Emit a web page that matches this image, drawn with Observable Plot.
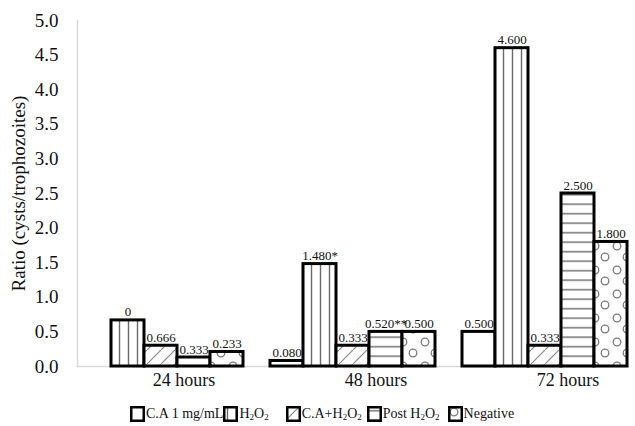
<!DOCTYPE html>
<html>
<head>
<meta charset="utf-8">
<script src="https://cdn.jsdelivr.net/npm/d3@7"></script>
<script src="https://cdn.jsdelivr.net/npm/@observablehq/plot@0.6"></script>
<style>
  body { margin: 0; background: #fff; font-family: "Liberation Serif", "Times New Roman", Times, "DejaVu Serif", serif; }
  #wrap { position: relative; width: 635px; height: 426px; }
  #legend { position: absolute; left: 130px; top: 405px; height: 18px; font-size: 14px; color: #111; display: flex; align-items: center; }
  .item { display: flex; align-items: center; white-space: nowrap; }
  .item svg { display: block; margin-right: 1px; }
  sub { font-size: 9px; vertical-align: -2px; }
  svg text { font-family: "Liberation Serif", "Times New Roman", Times, "DejaVu Serif", serif; }
</style>
</head>
<body>
<svg width="0" height="0" style="position:absolute">
  <defs>
    <pattern id="pV" patternUnits="userSpaceOnUse" width="9" height="10">
      <rect width="9" height="10" fill="#fff"/>
      <line x1="4.5" y1="0" x2="4.5" y2="10" stroke="#6a6a6a" stroke-width="1.4"/>
    </pattern>
    <pattern id="pD" patternUnits="userSpaceOnUse" width="14" height="14">
      <rect width="14" height="14" fill="#fff"/>
      <line x1="-2" y1="16" x2="16" y2="-2" stroke="#8a8a8a" stroke-width="1.2"/>
    </pattern>
    <pattern id="pH" patternUnits="userSpaceOnUse" width="10" height="9.5">
      <rect width="10" height="9.5" fill="#fff"/>
      <line x1="0" y1="4.7" x2="10" y2="4.7" stroke="#6a6a6a" stroke-width="1.4"/>
    </pattern>
    <pattern id="pC" patternUnits="userSpaceOnUse" width="22" height="24">
      <rect width="22" height="24" fill="#fff"/>
      <circle cx="6" cy="6" r="3.8" fill="none" stroke="#7a7a7a" stroke-width="1.3"/>
      <circle cx="16" cy="17" r="3.8" fill="none" stroke="#7a7a7a" stroke-width="1.3"/>
    </pattern>
  </defs>
</svg>
<div id="wrap">
  <div id="chart"></div>
  <div id="legend"></div>
</div>
<script>
// ---- data ----
const groups = ["24 hours", "48 hours", "72 hours"];
const series = ["C.A 1 mg/mL", "H2O2", "C.A+H2O2", "Post H2O2", "Negative"];
const values24 = [0, 0.666, 0.30, 0.13, 0.21];
const values48 = [0.08, 1.48, 0.30, 0.50, 0.50];
const values72 = [0.50, 4.60, 0.30, 2.50, 1.80];
const labels24 = ["", "0", "0.666", "0.333", "0.233"];
const labels48 = ["0.080", "1.480*", "0.333", "0.520**", "0.500"];
const labels72 = ["0.500", "4.600", "0.333", "2.500", "1.800"];
const yTicks = [0, 0.5, 1, 1.5, 2, 2.5, 3, 3.5, 4, 4.5, 5];

// ---- styles ----
const fills = ["#fff", "url(#pV)", "url(#pD)", "url(#pH)", "url(#pC)"];
const legendGapAfter = [0, 17, 5, 8, 0];
const serif = '"Liberation Serif", "Times New Roman", Times, "DejaVu Serif", serif';

const valueSets = [values24, values48, values72];
const labelSets = [labels24, labels48, labels72];
const rows = groups.flatMap((g, gi) =>
  series.map((s, si) => ({group: g, series: s, value: valueSets[gi][si], label: labelSets[gi][si]}))
);

const chart = Plot.plot({
  width: 635,
  height: 396,
  marginLeft: 70,
  marginRight: 0,
  marginTop: 20,
  marginBottom: 30,
  style: {fontFamily: serif, color: "#111", background: "#fff"},
  fx: {domain: groups, paddingInner: 0.13, paddingOuter: 0.035, label: null},
  x: {domain: series, padding: 0, axis: null},
  y: {domain: [0, 5], label: null},
  color: {domain: series, range: fills},
  marks: [
    Plot.frame({anchor: "left", stroke: "#d9d9d9", strokeWidth: 1.5, facet: "super"}),
    Plot.frame({anchor: "bottom", stroke: "#d9d9d9", strokeWidth: 1.5, facet: "super"}),
    Plot.axisY(yTicks, {
      tickSize: 0, tickPadding: 19, fontSize: 19,
      tickFormat: d => d.toFixed(1),
      label: "Ratio (cysts/trophozoites)", labelAnchor: "center", labelOffset: 66, labelArrow: "none"
    }),
    Plot.axisFx({anchor: "bottom", tickSize: 0, tickPadding: 7, fontSize: 18, dx: 23, label: null}),
    Plot.barY(rows.filter(d => d.value > 0), {
      fx: "group", x: "series", y: "value", fill: "series", stroke: "#000", strokeWidth: 3
    }),
    Plot.text(rows.filter(d => d.label !== ""), {
      fx: "group", x: "series", y: "value", text: "label",
      lineAnchor: "bottom", dy: -4, fontSize: 13, fill: "#111"
    })
  ]
});
document.getElementById("chart").appendChild(chart);

// ---- legend ----
const legend = document.getElementById("legend");
const fmt = s => s.replace(/H2O2/g, "H<sub>2</sub>O<sub>2</sub>");
series.forEach((s, i) => {
  const item = document.createElement("div");
  item.className = "item";
  item.style.marginRight = legendGapAfter[i] + "px";
  item.innerHTML = `<svg width="15" height="16"><rect x="1.25" y="1.25" width="12.5" height="13.5" fill="${fills[i]}" stroke="#000" stroke-width="2.5"/></svg><span>${fmt(s)}</span>`;
  legend.appendChild(item);
});
</script>
</body>
</html>
